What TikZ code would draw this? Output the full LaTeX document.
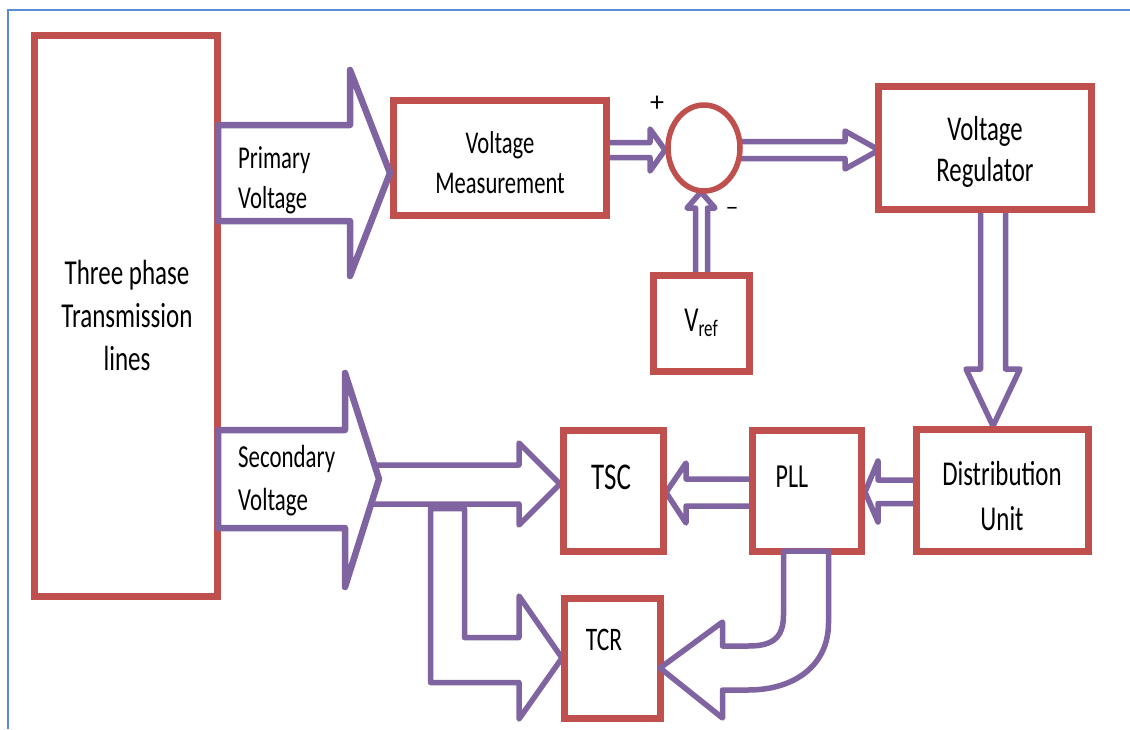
\documentclass[tikz,border=0pt]{standalone}
\usepackage{fontspec}
\setmainfont{Carlito}
\usepackage{graphicx}
\usetikzlibrary{shapes.geometric}
\definecolor{boxred}{HTML}{C0504D}
\definecolor{arrpurple}{HTML}{8064A2}
\definecolor{frameblue}{HTML}{5B8BD6}
\newcommand{\sy}[1]{\scalebox{1}[1.4]{#1}}
\begin{document}
\begin{tikzpicture}[x=1pt,y=-1pt,
  blk/.style={draw=boxred, line width=7.5pt, rectangle, inner sep=0pt, outer sep=0pt},
  bigarr/.style={draw=arrpurple, line width=6.5pt, line join=round, fill=white},
  dblarr/.style={draw=arrpurple, line width=5.5pt, line join=round},
  lbl/.style={align=center, inner sep=0pt, text=black}
]
\useasboundingbox (0,0) rectangle (1130,729);
\fill[white] (0,0) rectangle (1130,729);
% frame
\draw[frameblue, line width=2.5pt] (8,729) -- (8,10) -- (1130,10);

% open double-line arrows (drawn below the boxes)
\draw[dblarr] (606,142.5) -- (650,142.5) -- (650,129) -- (665,150) -- (650,171) -- (650,157.5) -- (606,157.5);
\draw[dblarr] (738,141.5) -- (845,141.5) -- (845,131) -- (879,150) -- (845,169) -- (845,158.5) -- (738,158.5);
\draw[dblarr] (695.5,276) -- (695.5,208) -- (687,208) -- (701,192) -- (715,208) -- (707.5,208) -- (707.5,276);
\draw[dblarr] (980.5,211) -- (980.5,369) -- (966,369) -- (993,426) -- (1020,369) -- (1005.5,369) -- (1005.5,211);
\draw[dblarr] (915,480) -- (878,480) -- (878,461) -- (865,492) -- (878,522) -- (878,503.5) -- (915,503.5);
\draw[dblarr] (751,479) -- (686,479) -- (686,463) -- (666,492.5) -- (686,523) -- (686,506) -- (751,506);
% secondary -> TSC
\draw[dblarr] (370,465) -- (519,465) -- (519,443) -- (560,484) -- (519,525) -- (519,504) -- (368,504);
% branch -> TCR
\draw[dblarr] (430.5,504) -- (430.5,682.5) -- (519,682.5) -- (519,719) -- (562,658) -- (519,596) -- (519,637.5) -- (464.5,637.5) -- (464.5,508.5) -- (430.5,508.5);

% boxes
\node[blk, minimum width=183pt, minimum height=561pt] (tp) at (126,316) {};
\node[blk, minimum width=213pt, minimum height=115pt] (vm) at (500,158) {};
\node[blk, minimum width=213pt, minimum height=123pt] (vr) at (985,148) {};
\node[blk, minimum width=96pt, minimum height=96pt] (vref) at (701.5,323.5) {};
\node[blk, minimum width=100pt, minimum height=121pt] (tsc) at (613.5,491) {};
\node[blk, minimum width=109pt, minimum height=121pt] (pll) at (807,491) {};
\node[blk, minimum width=172pt, minimum height=122pt] (du) at (1002.5,490.5) {};
\node[blk, minimum width=96pt, minimum height=120pt] (tcr) at (612.5,658.5) {};
\node[draw=boxred, line width=5.5pt, ellipse, minimum width=72pt, minimum height=86pt, inner sep=0pt] (sum) at (704,148) {};

% big block arrows
\draw[bigarr] (218,125) -- (350,125) -- (350,70) -- (390,173) -- (350,276) -- (350,221) -- (218,221) -- cycle;
\draw[bigarr] (218,430) -- (345,430) -- (345,373) -- (379,479) -- (345,587) -- (345,528) -- (218,528) -- cycle;
% PLL -> TCR curved arrow
\draw[dblarr, fill=white] (783.5,551) -- (783.5,615) .. controls (783.5,640) and (770,646) .. (748,646) -- (722.5,646) -- (722.5,622) -- (660,668) -- (722.5,718) -- (722.5,690) -- (748,690) .. controls (795,690) and (828.5,665) .. (828.5,623) -- (828.5,551) -- cycle;

% texts
\node[lbl, font=\fontsize{25}{43}\selectfont] (tpt) at (127,315) {\sy{Three phase}\\\sy{Transmission}\\\sy{lines}};
\node[lbl, font=\fontsize{22.6}{40}\selectfont] (vmt) at (500,163) {\sy{Voltage}\\\sy{Measurement}};
\node[lbl, font=\fontsize{24.8}{41}\selectfont] (vrt) at (985,152) {\sy{Voltage}\\\sy{Regulator}};
\node[lbl, font=\fontsize{24.9}{45}\selectfont] (dut) at (1002,496) {\sy{Distribution}\\\sy{Unit}};
\node[lbl, align=left, anchor=west, font=\fontsize{22.7}{40}\selectfont] (pvt) at (238,180) {\sy{Primary}\\\sy{Voltage}};
\node[lbl, align=left, anchor=west, font=\fontsize{22.9}{43}\selectfont] (svt) at (238,481) {\sy{Secondary}\\\sy{Voltage}};
\node[lbl, font=\fontsize{27}{30}\selectfont] (tsct) at (611,477) {\sy{TSC}};
\node[lbl, font=\fontsize{24}{30}\selectfont] (pllt) at (792,477) {\sy{PLL}};
\node[lbl, font=\fontsize{23.5}{30}\selectfont] (tcrt) at (604,640) {\sy{TCR}};
\node[lbl, font=\fontsize{25}{30}\selectfont] (vreft) at (701,323) {\sy{V\raisebox{-4pt}{\fontsize{17}{17}\selectfont ref}}};
\node[lbl, font=\fontsize{28}{30}\selectfont] (plus) at (657,104) {+};
\node[lbl, font=\fontsize{26}{30}\selectfont] (minus) at (732,211) {–};
\end{tikzpicture}
\end{document}
